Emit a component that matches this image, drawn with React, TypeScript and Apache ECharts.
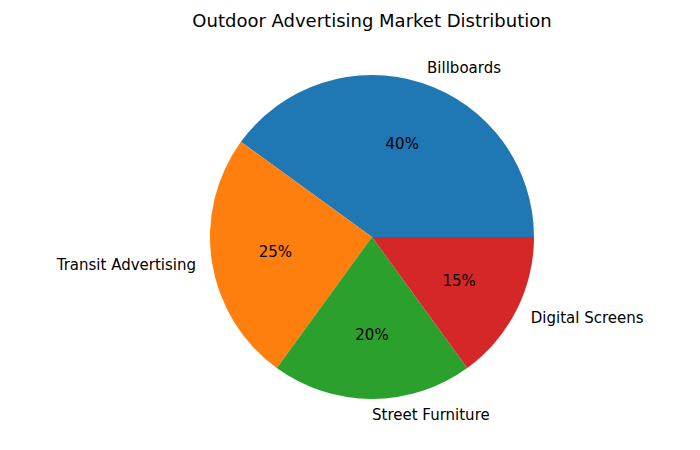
import * as echarts from 'echarts';
import { useEffect, useRef } from 'react';

const categories = ['Billboards', 'Transit Advertising', 'Street Furniture', 'Digital Screens'];
const shares = [40, 25, 20, 15];
const colors = ['#1f77b4', '#ff7f0e', '#2ca02c', '#d62728'];

const FONT = 'DejaVu Sans, sans-serif';
const R = 162;
// a hair past 0 so the bottom label lands on the right-hand side, like matplotlib
const START = 0.001;

export default function App() {
    const chartRef = useRef<HTMLDivElement>(null);

    useEffect(() => {
        if (!chartRef.current) return;

        const chart = echarts.init(chartRef.current, null, { renderer: 'svg' });

        const option: echarts.EChartsOption = {
            animation: false,
            title: {
                text: 'Outdoor Advertising Market Distribution',
                left: 367,
                top: 6,
                textAlign: 'center',
                textStyle: {
                    fontFamily: FONT,
                    fontSize: 18,
                    fontWeight: 'normal',
                    color: '#000',
                },
            },
            series: [
                {
                    // slices + outer category labels
                    type: 'pie',
                    center: [372, 237],
                    radius: R,
                    startAngle: START,
                    clockwise: false,
                    avoidLabelOverlap: false,
                    silent: true,
                    label: {
                        show: true,
                        position: 'outside',
                        formatter: '{b}',
                        distanceToLabelLine: 0,
                        fontFamily: FONT,
                        fontSize: 15,
                        color: '#000',
                    },
                    labelLine: { show: false, length: R * 0.1, length2: 0 },
                    data: categories.map((name, i) => ({
                        name,
                        value: shares[i],
                        itemStyle: { color: colors[i] },
                    })),
                },
                {
                    // invisible pie so the inside labels sit at ~0.6 r
                    type: 'pie',
                    center: [372, 237],
                    radius: [0, R * 1.17],
                    startAngle: START,
                    clockwise: false,
                    silent: true,
                    avoidLabelOverlap: false,
                    itemStyle: { color: 'rgba(0,0,0,0)' },
                    label: {
                        show: true,
                        position: 'inside',
                        formatter: '{c}%',
                        fontFamily: FONT,
                        fontSize: 15,
                        color: '#000',
                    },
                    labelLine: { show: false },
                    data: categories.map((name, i) => ({ name, value: shares[i] })),
                },
            ],
        };

        chart.setOption(option);

        return () => {
            chart.dispose();
        };
    }, []);

    return (
        <div
            ref={chartRef}
            style={{ position: 'absolute', left: 0, top: 0, width: '700px', height: '450px', background: '#fff' }}
        />
    );
}
